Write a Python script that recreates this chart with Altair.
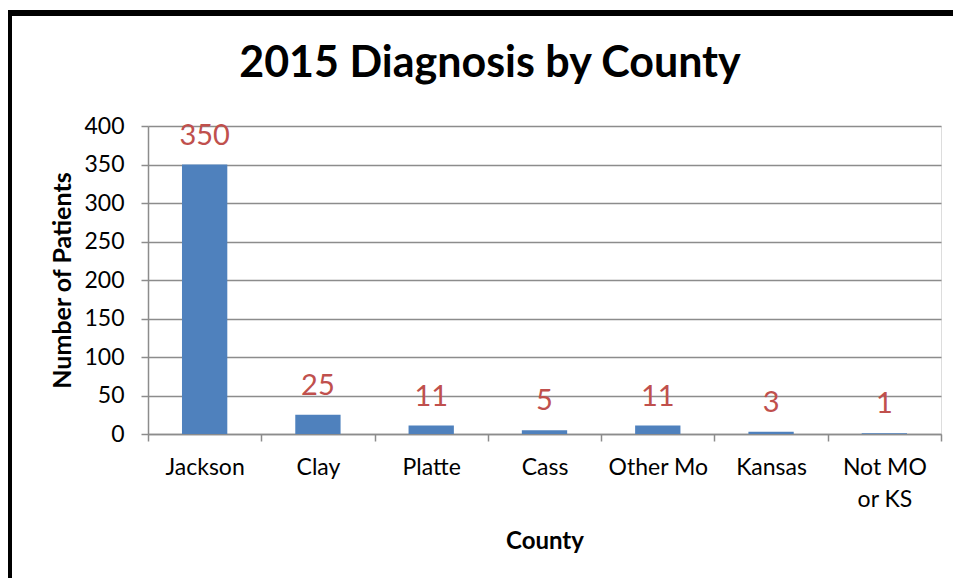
import altair as alt
import pandas as pd

counties = ["Jackson", "Clay", "Platte", "Cass", "Other Mo", "Kansas", "Not MO or KS"]
patients = [350, 25, 11, 5, 11, 3, 1]
title_text = "2015 Diagnosis by County"
y_ticks = [0, 50, 100, 150, 200, 250, 300, 350, 400]

df = pd.DataFrame({"County": counties, "Patients": patients})

FONT = "Lato"
W, H = 793, 308

x_enc = alt.X(
    "County:N",
    sort=counties,
    scale=alt.Scale(paddingInner=0, paddingOuter=0),
    axis=alt.Axis(
        title="County",
        titleFont=FONT, titleFontSize=24, titleFontWeight="bold", titleColor="black",
        titleX=W / 2, titleY=107, titleBaseline="middle", titleAlign="center",
        labelFont=FONT, labelFontSize=23, labelColor="black", labelPadding=15,
        labelLineHeight=32, labelAngle=0, labelOverlap=False,
        labelExpr="datum.label == 'Not MO or KS' ? ['Not MO', 'or KS'] : datum.label",
        tickBand="extent", tickSize=7, tickColor="#8c8c8c", tickWidth=1.5,
        domainColor="#8c8c8c", domainWidth=1.5, grid=False,
    ),
)

y_enc = alt.Y(
    "Patients:Q",
    scale=alt.Scale(domain=[0, 400], nice=False),
    axis=alt.Axis(
        title="Number of Patients",
        titleFont=FONT, titleFontSize=25, titleFontWeight="bold", titleColor="black",
        titleX=-86, titleY=H / 2, titleAngle=-90, titleBaseline="middle", titleAlign="center",
        values=y_ticks, tickCount=9, labelOverlap=False,
        labelFont=FONT, labelFontSize=23, labelColor="black", labelPadding=17,
        tickSize=7, tickColor="#8c8c8c", tickWidth=1.5,
        domainColor="#8c8c8c", domainWidth=1.5,
        grid=True, gridColor="#8c8c8c", gridWidth=1.5,
    ),
)

bars = alt.Chart(df).mark_bar(color="#4F81BD", width=alt.RelativeBandSize(0.4)).encode(
    x=x_enc, y=y_enc
)

labels = alt.Chart(df).mark_text(
    font=FONT, fontSize=29, color="#C0504D", baseline="alphabetic", dy=-20
).encode(
    x=x_enc,
    y=y_enc,
    text="Patients:Q",
)

title = alt.Chart(pd.DataFrame({"t": [title_text]})).mark_text(
    font=FONT, fontSize=43, fontWeight="bold", color="black", baseline="alphabetic", align="center"
).encode(x=alt.value(342), y=alt.value(-49), text="t:N")

frame_df = pd.DataFrame({"k": [0]})
top_line = alt.Chart(frame_df).mark_rule(color="black", strokeWidth=6).encode(
    x=alt.value(-140), x2=alt.value(805), y=alt.value(-113)
)
left_line = alt.Chart(frame_df).mark_rule(color="black", strokeWidth=4).encode(
    x=alt.value(-138), y=alt.value(-116), y2=alt.value(452)
)

chart = alt.layer(bars, labels, title, top_line, left_line).properties(
    width=W, height=H,
    autosize=alt.AutoSizeParams(type="none"),
    padding={"left": 140, "top": 118, "right": 12, "bottom": 144},
).configure_view(stroke=None).configure(background="white")

chart.save("out.html", embed_options={"renderer": "svg", "actions": False})
